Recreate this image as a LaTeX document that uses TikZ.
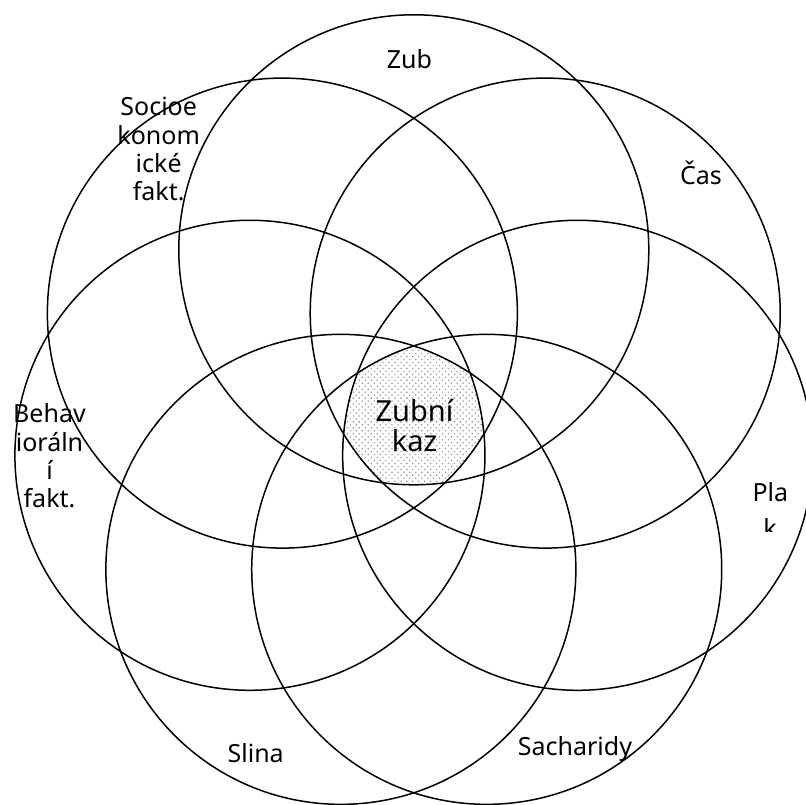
\documentclass[tikz,border=0pt]{standalone}
\usepackage{fontspec}
\setmainfont{Noto Sans}
\usetikzlibrary{patterns.meta}

\begin{document}
\begin{tikzpicture}[x=1pt, y=1pt,
    ring/.style={draw, circle, line width=1.5pt, minimum size=470pt, inner sep=0pt},
    lbl/.style={inner sep=0pt, anchor=base, align=center, font=\fontsize{25}{28.3}\selectfont},
    core/.style={pattern={Dots[distance=4.2pt, angle=45, radius=0.9pt]}, pattern color=gray!80}]
    \clip (-413.8,-387.1) rectangle (392.2,417.9);
    \fill[white] (-413.8,-387.1) rectangle (392.2,417.9);
    % seven factors round the middle
    \coordinate (mid) at (0,0);
    \path (mid) ++(90:168.1) coordinate (zubc);
    \path (mid) ++(38.571:168.1) coordinate (casc);
    \path (mid) ++(-12.857:168.1) coordinate (plakc);
    \path (mid) ++(-64.286:168.1) coordinate (sachc);
    \path (mid) ++(-115.714:168.1) coordinate (slinac);
    \path (mid) ++(-167.143:168.1) coordinate (behavc);
    \path (mid) ++(141.429:168.1) coordinate (socioc);
    % common part of all circles
    \begin{scope}
      \clip (zubc) circle (235);
      \clip (casc) circle (235);
      \clip (plakc) circle (235);
      \clip (sachc) circle (235);
      \clip (slinac) circle (235);
      \clip (behavc) circle (235);
      \clip (socioc) circle (235);
      \fill[core] (mid) circle (200);
    \end{scope}
    \node[ring] (zub) at (zubc) {};
    \node[ring] (cas) at (casc) {};
    \node[ring] (plak) at (plakc) {};
    \node[ring] (sach) at (sachc) {};
    \node[ring] (slina) at (slinac) {};
    \node[ring] (behav) at (behavc) {};
    \node[ring] (socio) at (socioc) {};
    % labels
    \node[lbl] (zubtxt) at (-4.3,348.9) {Zub};
    \node[lbl] (castxt) at (287.2,233.6) {Čas};
    \node[lbl] (platxt) at (356.5,-83.8) {Pla};
    \begin{scope}
      \clip (330,-99.1) rectangle (380,-114.1);
      \node[lbl] (ktxt) at (356.2,-120.1) {k};
    \end{scope}
    \node[lbl] (sachtxt) at (161.2,-337.1) {Sacharidy};
    \node[lbl] (slinatxt) at (-158.1,-344.4) {Slina};
    \node[lbl] (behavtxt) at (-364.3,-89.8) {Behav\\ioráln\\í\\fakt.};
    \node[lbl] (sociotxt) at (-255.1,217.2) {Socioe\\konom\\ické\\fakt.};
    \node[lbl, font=\fontsize{29}{30}\selectfont] (kaztxt) at (0.7,-34.1) {Zubní\\kaz};
\end{tikzpicture}
\end{document}
